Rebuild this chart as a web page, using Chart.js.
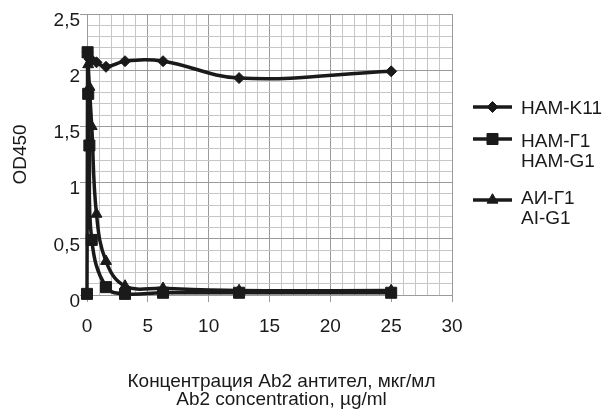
<!DOCTYPE html>
<html>
<head>
<meta charset="utf-8">
<script src="https://cdn.jsdelivr.net/npm/chart.js@4/dist/chart.umd.min.js"></script>
<style>
  html, body { margin: 0; padding: 0; background: #fff; }
  #wrap { width: 608px; height: 418px; }
</style>
</head>
<body>
<div id="wrap"><canvas id="c" width="608" height="418"></canvas></div>
<script>
// Series names (one entry per legend line)
const k11Name = ['HAM-K11'];
const g1Name = ['HAM-Г1', 'HAM-G1'];
const aiName = ['АИ-Г1', 'AI-G1'];

// Ab2 concentration, µg/ml, and OD450 readings
const k11X = [0.049, 0.098, 0.195, 0.39, 0.78, 1.5625, 3.125, 6.25, 12.5, 25];
const k11Y = [2.16, 2.12, 2.10, 2.09, 2.07, 2.03, 2.08, 2.08, 1.93, 1.99];

const g1X = [0, 0.049, 0.098, 0.195, 0.39, 1.5625, 3.125, 6.25, 12.5, 25];
const g1Y = [0.01, 2.16, 1.79, 1.33, 0.49, 0.07, 0.01, 0.02, 0.02, 0.02];

const aiX = [0.049, 0.098, 0.195, 0.39, 0.78, 1.5625, 3.125, 6.25, 12.5, 25];
const aiY = [2.14, 2.05, 1.85, 1.50, 0.72, 0.30, 0.08, 0.06, 0.04, 0.04];

// Labelled ticks
const xTicks = [0, 5, 10, 15, 20, 25, 30];
const yTicks = [0, 0.5, 1, 1.5, 2, 2.5];

const xTitle = ['Концентрация Ab2 антител, мкг/мл', 'Ab2 concentration, µg/ml'];
const yTitle = 'OD450';

const FONT = "'Liberation Sans', Arial, Helvetica, sans-serif";
const FONT_SIZE = 19;
const INK = '#1a1a1a';
const MAJOR = '#9a9a9a';
const MINOR = '#c6c6c6';

const toPoints = (xs, ys) => xs.map((x, i) => ({ x, y: ys[i] }));
const isMajorX = v => xTicks.some(t => Math.abs(t - v) < 1e-6);
const isMajorY = v => yTicks.some(t => Math.abs(t - v) < 1e-6);

const seriesStyle = (name, pts, pointStyle, radius) => ({
  label: name.join(' '),
  names: name,
  data: pts,
  showLine: true,
  borderColor: INK,
  backgroundColor: INK,
  borderWidth: 3.5,
  pointStyle,
  pointRadius: radius,
  pointHoverRadius: radius,
  pointBorderWidth: 1,
  pointBorderColor: INK,
  pointBackgroundColor: INK,
  tension: 0.4,
  clip: false
});

// Legend on the right and the two-line x-axis caption
const annotations = {
  id: 'annotations',
  afterDraw(chart) {
    const ctx = chart.ctx;
    const rows = [
      { marker: 107, baselines: [114] },
      { marker: 139, baselines: [146.5, 166.5] },
      { marker: 200, baselines: [203.5, 224] }
    ];
    ctx.save();
    chart.data.datasets.forEach((ds, i) => {
      const r = rows[i];
      ctx.strokeStyle = INK;
      ctx.lineWidth = 3.5;
      ctx.beginPath();
      ctx.moveTo(473, r.marker);
      ctx.lineTo(512, r.marker);
      ctx.stroke();
      ctx.fillStyle = INK;
      ctx.lineWidth = 1;
      Chart.helpers.drawPoint(ctx, {
        pointStyle: ds.pointStyle,
        radius: ds.pointRadius,
        borderWidth: 1,
        rotation: 0
      }, 492.5, r.marker);
      ctx.font = FONT_SIZE + 'px ' + FONT;
      ctx.textAlign = 'left';
      ctx.textBaseline = 'alphabetic';
      ds.names.forEach((t, j) => ctx.fillText(t, 521, r.baselines[j]));
    });
    ctx.font = FONT_SIZE + 'px ' + FONT;
    ctx.textAlign = 'center';
    ctx.textBaseline = 'alphabetic';
    ctx.fillStyle = INK;
    ctx.fillText(xTitle[0], 281.5, 387.3);
    ctx.fillText(xTitle[1], 281.5, 404.7);
    ctx.restore();
  }
};

new Chart(document.getElementById('c'), {
  type: 'scatter',
  data: {
    datasets: [
      seriesStyle(k11Name, toPoints(k11X, k11Y), 'rectRot', 5.5),
      seriesStyle(g1Name, toPoints(g1X, g1Y), 'rect', 7.8),
      seriesStyle(aiName, toPoints(aiX, aiY), 'triangle', 6.3)
    ]
  },
  options: {
    responsive: false,
    animation: false,
    devicePixelRatio: 1,
    layout: { padding: { left: 0, right: 156, top: 14, bottom: 0 } },
    plugins: {
      legend: { display: false },
      tooltip: { enabled: false }
    },
    scales: {
      x: {
        type: 'linear',
        min: 0,
        max: 30,
        border: { display: true, color: MAJOR, width: 1 },
        grid: {
          color: c => isMajorX(c.tick.value) ? MAJOR : MINOR,
          tickColor: c => isMajorX(c.tick.value) ? MAJOR : 'rgba(0,0,0,0)',
          tickLength: 7,
          lineWidth: 1
        },
        ticks: {
          stepSize: 1,
          autoSkip: false,
          maxRotation: 0,
          padding: 13,
          color: INK,
          font: { family: FONT, size: FONT_SIZE },
          callback: v => isMajorX(v) ? String(Math.round(v)) : ''
        },
        afterFit(scale) {
          scale.height = 123;
          scale.paddingLeft = 0;
          scale.paddingRight = 0;
        }
      },
      y: {
        type: 'linear',
        min: 0,
        max: 2.5,
        border: { display: true, color: MAJOR, width: 1 },
        grid: {
          color: c => isMajorY(c.tick.value) ? MAJOR : MINOR,
          tickColor: c => isMajorY(c.tick.value) ? MAJOR : 'rgba(0,0,0,0)',
          tickLength: 7,
          lineWidth: 1
        },
        ticks: {
          stepSize: 0.1,
          autoSkip: false,
          padding: 0,
          labelOffset: 6.5,
          color: INK,
          font: { family: FONT, size: FONT_SIZE },
          callback: v => isMajorY(v) ? String(Math.round(v * 10) / 10).replace('.', ',') : ''
        },
        title: {
          display: true,
          text: yTitle,
          color: INK,
          font: { family: FONT, size: FONT_SIZE },
          padding: { top: 9, bottom: 0 }
        },
        afterFit(scale) {
          scale.width = 87;
          scale.paddingTop = 0;
          scale.paddingBottom = 0;
        }
      }
    }
  },
  plugins: [annotations]
});
</script>
</body>
</html>
